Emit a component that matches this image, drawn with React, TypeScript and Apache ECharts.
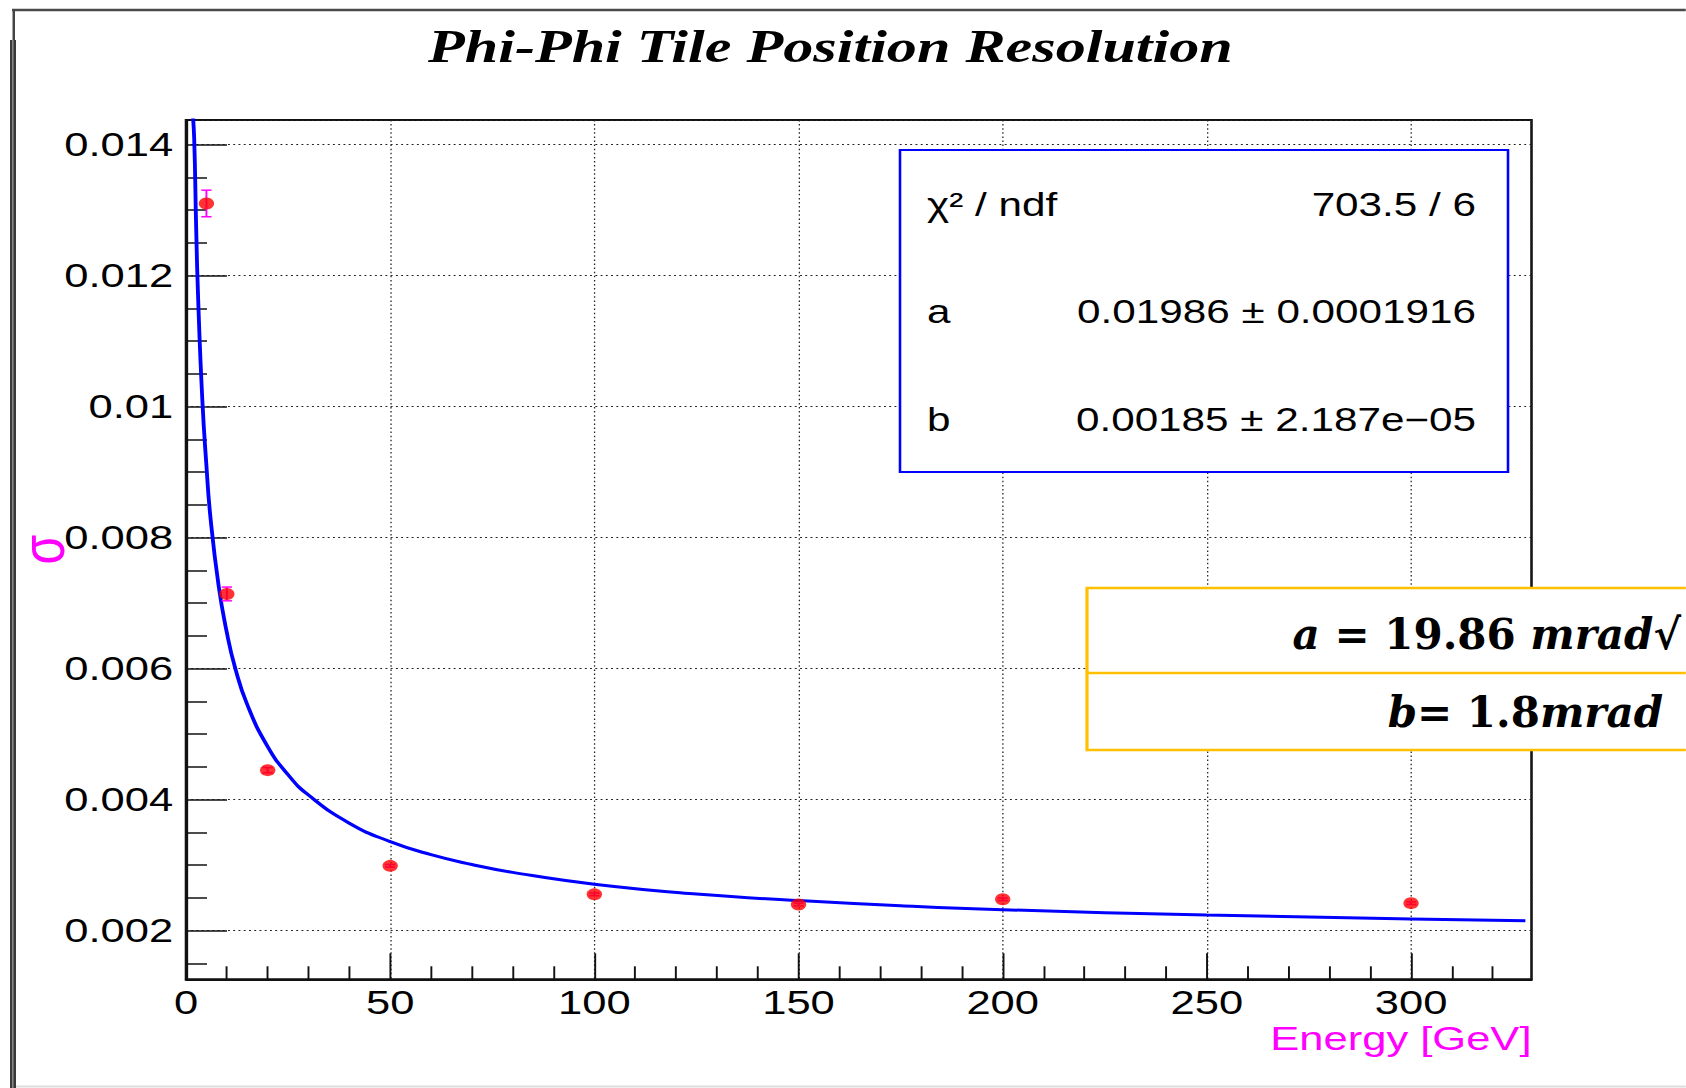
import React, { useEffect, useRef } from "react";
import * as echarts from "echarts";

// The reference is a horizontally stretched ROOT canvas: draw at a narrower width and stretch.
const STRETCH = 1.28;
const FULL_W = 1686;
const FULL_H = 1088;
const W = FULL_W / STRETCH;

const titleText = "Phi-Phi Tile Position Resolution";
const xAxisTitle = "Energy [GeV]";
const yAxisTitle = "σ";

// measured points
const energies = [5, 10, 20, 50, 100, 150, 200, 300];
const sigmaValues = [0.0131, 0.00714, 0.00445, 0.00299, 0.002555, 0.0024, 0.00248, 0.00242];
const sigmaErrors = [0.000203, 0.000105, 0.00004, 0.00002, 0.00002, 0.00002, 0.00002, 0.00002];

// fit curve
const fitEnergies = [1.6, 2, 2.5, 3, 4, 5, 6, 8, 10, 12, 15, 20, 25, 30, 40, 50, 60, 70, 80, 100, 125, 150, 175, 200, 250, 300, 328];
const fitSigma = [0.0145, 0.0141, 0.0127, 0.0116, 0.0101, 0.0091, 0.0083, 0.00726, 0.00655, 0.00602, 0.00545, 0.00481, 0.00438, 0.00407, 0.00364, 0.00336, 0.00316, 0.00301, 0.00289, 0.00271, 0.00256, 0.00246, 0.00238, 0.00232, 0.00224, 0.00218, 0.00215];

// axes
const X_MIN = 0;
const X_MAX = 329.5;
const Y_MIN = 0.001258;
const Y_MAX = 0.014374;
const xMinorTicks = [10, 20, 30, 40, 60, 70, 80, 90, 110, 120, 130, 140, 160, 170, 180, 190, 210, 220, 230, 240, 260, 270, 280, 290, 310, 320];
const yMinorTicks = [0.0015, 0.0025, 0.003, 0.0035, 0.0045, 0.005, 0.0055, 0.0065, 0.007, 0.0075, 0.0085, 0.009, 0.0095, 0.0105, 0.011, 0.0115, 0.0125, 0.013, 0.0135];

// stats box
const statLabels = ["χ² / ndf", "a", "b"];
const statValues = ["703.5 / 6", "0.01986 ± 0.0001916", "0.00185 ± 2.187e−05"];

const sx = (v: number) => v / STRETCH; // full-size x -> drawing x

const SANS = "Liberation Sans";

export default function App() {
  const ref = useRef<HTMLDivElement>(null);
  useEffect(() => {
    document.body.style.margin = "0";
    document.body.style.overflow = "hidden";
    const chart = echarts.init(ref.current!, undefined, { renderer: "svg" });

    const gridLeft = sx(186);
    const gridWidth = sx(1531.5 - 186);
    const gridTop = 120;
    const gridHeight = 979.3 - 120;

    const tickStyle = { color: "#111", width: 1.5 };
    const splitStyle = { color: "#222", width: 1, type: [1.5, 2.6] as any };

    const statRowsY = [205, 311.5, 420];
    const statGraphics: any[] = [];
    statLabels.forEach((lab, i) => {
      statGraphics.push({
        type: "text", z: 101, x: sx(927), y: statRowsY[i],
        style: { text: lab, fontFamily: SANS, fontSize: 33, fill: "#000", textAlign: "left", textVerticalAlign: "middle" },
      });
      statGraphics.push({
        type: "text", z: 101, x: sx(1476), y: statRowsY[i],
        style: { text: statValues[i], fontFamily: SANS, fontSize: 33, fill: "#000", textAlign: "right", textVerticalAlign: "middle" },
      });
    });

    const richMath = {
      i: { fontFamily: "DejaVu Serif", fontStyle: "italic", fontWeight: "bold", fontSize: 42, fill: "#000" },
      n: { fontFamily: "DejaVu Serif", fontWeight: "bold", fontSize: 42, fill: "#000" },
    };

    const option: any = {
      animation: false,
      backgroundColor: "#ffffff",
      title: {
        text: titleText,
        left: sx(428),
        top: 23,
        padding: 0,
        textStyle: { fontFamily: "Liberation Serif", fontStyle: "italic", fontWeight: "bold", fontSize: 47, color: "#000" },
      },
      grid: {
        left: gridLeft, top: gridTop, width: gridWidth, height: gridHeight,
        containLabel: false, outerBoundsMode: "none",
        show: true, borderColor: "#111", borderWidth: 2, backgroundColor: "transparent",
      },
      xAxis: [
        {
          type: "value", min: X_MIN, max: X_MAX, interval: 50, position: "bottom",
          axisLine: { show: true, onZero: false, lineStyle: { color: "#111", width: 2 } },
          axisTick: { show: true, inside: true, length: 26, lineStyle: tickStyle },
          axisLabel: { fontFamily: SANS, fontSize: 34, color: "#000", margin: 6, showMaxLabel: false },
          splitLine: { show: true, lineStyle: splitStyle },
          name: xAxisTitle, nameLocation: "end", nameGap: 0, nameMoveOverlap: false,
          nameTextStyle: { fontFamily: SANS, fontSize: 34, color: "#ff00ff", align: "right", verticalAlign: "top", padding: [42, 0, 0, 0] },
        },
        {
          type: "value", min: X_MIN, max: X_MAX, position: "bottom",
          axisLine: { show: false, onZero: false },
          axisTick: { show: true, inside: true, length: 13, lineStyle: tickStyle, customValues: xMinorTicks },
          axisLabel: { show: false },
          splitLine: { show: false },
        },
      ],
      yAxis: [
        {
          type: "value", min: Y_MIN, max: Y_MAX, splitNumber: 6, position: "left",
          axisLine: { show: true, onZero: false, lineStyle: { color: "#111", width: 2 } },
          axisTick: { show: true, inside: true, length: sx(41), lineStyle: tickStyle },
          axisLabel: { fontFamily: SANS, fontSize: 34, color: "#000", margin: 10, showMinLabel: false, showMaxLabel: false },
          splitLine: { show: true, lineStyle: splitStyle },
          name: yAxisTitle, nameLocation: "middle", nameRotate: 90, nameGap: 88, nameMoveOverlap: false,
          nameTextStyle: { fontFamily: SANS, fontSize: 48, color: "#ff00ff" },
        },
        {
          type: "value", min: Y_MIN, max: Y_MAX, position: "left",
          axisLine: { show: false, onZero: false },
          axisTick: { show: true, inside: true, length: sx(21), lineStyle: tickStyle, customValues: yMinorTicks },
          axisLabel: { show: false },
          splitLine: { show: false },
        },
      ],
      series: [
        {
          type: "line", name: "fit", xAxisIndex: 0, yAxisIndex: 0, z: 2,
          data: fitEnergies.map((e, i) => [e, fitSigma[i]]),
          showSymbol: false, smooth: 0.5, clip: true,
          lineStyle: { color: "#0000ff", width: 3 },
        },
        {
          type: "custom", name: "errors", xAxisIndex: 0, yAxisIndex: 0, z: 3,
          data: energies.map((e, i) => [e, sigmaValues[i], sigmaErrors[i]]),
          encode: { x: 0, y: 1 },
          renderItem: (params: any, api: any) => {
            const x = api.value(0);
            const y = api.value(1);
            const err = api.value(2);
            const p1 = api.coord([x, y + err]);
            const p2 = api.coord([x, y - err]);
            const cap = 4;
            const style = { stroke: "#ff00ff", lineWidth: 1.5 };
            return {
              type: "group",
              children: [
                { type: "line", shape: { x1: p1[0], y1: p1[1], x2: p2[0], y2: p2[1] }, style },
                { type: "line", shape: { x1: p1[0] - cap, y1: p1[1], x2: p1[0] + cap, y2: p1[1] }, style },
                { type: "line", shape: { x1: p2[0] - cap, y1: p2[1], x2: p2[0] + cap, y2: p2[1] }, style },
              ],
            };
          },
        },
        {
          type: "scatter", name: "data", xAxisIndex: 0, yAxisIndex: 0, z: 4,
          data: energies.map((e, i) => [e, sigmaValues[i]]),
          symbol: "circle", symbolSize: 12,
          itemStyle: { color: "#ff0000" },
        },
      ],
      graphic: [
        // canvas window frame
        { type: "line", z: 50, shape: { x1: sx(12), y1: 10, x2: W + 2, y2: 10 }, style: { stroke: "#4a4a4a", lineWidth: 2.5 } },
        { type: "rect", z: 50, shape: { x: sx(12.5), y: 10, width: sx(2.5), height: 32 }, style: { fill: "#444" } },
        { type: "rect", z: 50, shape: { x: sx(10), y: 40, width: sx(6), height: FULL_H - 40 }, style: { fill: "#3a3a3a" } },
        { type: "rect", z: 51, shape: { x: sx(12), y: 40, width: sx(1.5), height: FULL_H - 40 }, style: { fill: "#8a8a8a" } },
        { type: "line", z: 50, shape: { x1: sx(16), y1: 1086.5, x2: W + 2, y2: 1086.5 }, style: { stroke: "#dddddd", lineWidth: 2 } },
        // stats box
        { type: "rect", z: 100, shape: { x: sx(900), y: 150, width: sx(1508 - 900), height: 322 }, style: { fill: "#ffffff", stroke: "#0000ff", lineWidth: 2 } },
        ...statGraphics,
        // yellow annotation box
        { type: "rect", z: 100, shape: { x: sx(1087), y: 588, width: W - sx(1087) + 20, height: 162 }, style: { fill: "#ffffff", stroke: "#ffc000", lineWidth: 2.5 } },
        { type: "line", z: 101, shape: { x1: sx(1087), y1: 673, x2: W + 20, y2: 673 }, style: { stroke: "#ffc000", lineWidth: 2.5 } },
        {
          type: "text", z: 102, x: sx(1681), y: 634, scaleX: 1 / STRETCH,
          style: { text: "{i|a} {n|= 19.86} {i|mrad}{n|√}", rich: richMath, fontFamily: "DejaVu Serif", fontWeight: "bold", fontSize: 42, fill: "#000", textAlign: "right", textVerticalAlign: "middle" },
        },
        {
          type: "text", z: 102, x: sx(1663), y: 712, scaleX: 1 / STRETCH,
          style: { text: "{i|b}{n|= 1.8}{i|mrad}", rich: richMath, fontFamily: "DejaVu Serif", fontWeight: "bold", fontSize: 42, fill: "#000", textAlign: "right", textVerticalAlign: "middle" },
        },
      ],
    };
    chart.setOption(option);
    return () => chart.dispose();
  }, []);

  return (
    <div
      ref={ref}
      style={{
        position: "absolute",
        left: 0,
        top: 0,
        width: W,
        height: FULL_H,
        transform: `scaleX(${STRETCH})`,
        transformOrigin: "0 0",
        background: "#fff",
      }}
    />
  );
}
